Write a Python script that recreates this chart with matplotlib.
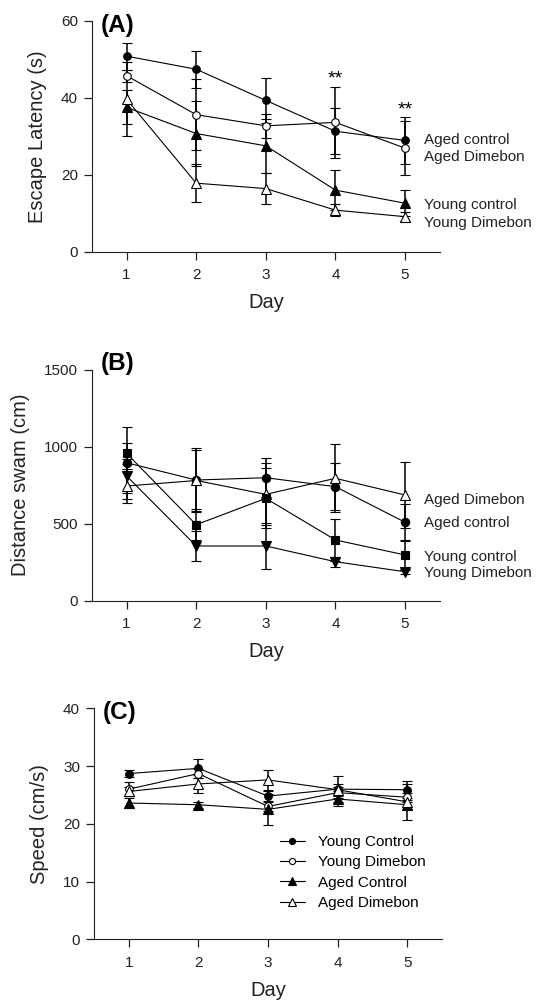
import matplotlib
matplotlib.use("Agg")
import matplotlib.pyplot as plt

plt.rcParams['font.family'] = ['Liberation Sans', 'DejaVu Sans']

days = [1, 2, 3, 4, 5]

# (A) escape latency, s
a_aged_ctrl = [50.8, 47.4, 39.3, 31.3, 28.9]
a_aged_ctrl_err = [3.5, 4.8, 5.9, 6.0, 6.2]
a_aged_dime = [45.7, 35.6, 32.7, 33.6, 26.9]
a_aged_dime_err = [1.5, 9.2, 3.2, 9.3, 7.0]
a_young_ctrl = [37.5, 30.7, 27.5, 16.0, 12.6]
a_young_ctrl_err = [4.4, 8.5, 7.0, 5.2, 3.4]
a_young_dime = [39.6, 17.8, 16.4, 10.8, 9.1]
a_young_dime_err = [9.6, 5.0, 4.1, 1.5, 1.2]

# (B) distance swam, cm
b_aged_ctrl = [895, 783, 798, 740, 509]
b_aged_ctrl_err = [234, 206, 126, 151, 120]
b_aged_dime = [744, 780, 690, 794, 686]
b_aged_dime_err = [108, 198, 201, 221, 216]
b_young_ctrl = [956, 493, 664, 394, 297]
b_young_ctrl_err = [70, 100, 195, 136, 97]
b_young_dime = [809, 355, 355, 253, 188]
b_young_dime_err = [112, 97, 150, 32, 15]

# (C) speed, cm/s
c_young_ctrl = [28.7, 29.6, 24.8, 26.0, 25.9]
c_young_ctrl_err = [0.6, 1.6, 0.8, 2.3, 1.5]
c_young_dime = [26.0, 28.7, 23.0, 25.4, 24.6]
c_young_dime_err = [1.2, 0.8, 0.8, 1.0, 0.8]
c_aged_ctrl = [23.6, 23.3, 22.5, 24.3, 23.3]
c_aged_ctrl_err = [0.9, 0.5, 2.7, 1.3, 0.8]
c_aged_dime = [25.6, 26.9, 27.6, 25.9, 23.8]
c_aged_dime_err = [0.8, 1.5, 1.7, 1.0, 3.1]

fig = plt.figure(figsize=(5.37, 10.02), dpi=100)
axA = fig.add_axes([0.171, 0.7488, 0.648, 0.2305])
axB = fig.add_axes([0.171, 0.4005, 0.648, 0.2307])
axC = fig.add_axes([0.175, 0.0626, 0.648, 0.2305])


def series(ax, y, err, marker, filled, ms):
    c = ax.errorbar(days, y, yerr=err, color='black', lw=0.8, marker=marker, ms=ms,
                    mfc='black' if filled else 'white', mec='black', mew=0.8,
                    ecolor='black', elinewidth=1.1, capsize=3.3, capthick=1.1,
                    clip_on=False, zorder=3)
    return c.lines[0]


series(axA, a_aged_ctrl, a_aged_ctrl_err, 'o', True, 5.5)
series(axA, a_aged_dime, a_aged_dime_err, 'o', False, 5.5)
series(axA, a_young_ctrl, a_young_ctrl_err, '^', True, 6.5)
series(axA, a_young_dime, a_young_dime_err, '^', False, 6.5)

series(axB, b_aged_ctrl, b_aged_ctrl_err, 'o', True, 6)
series(axB, b_aged_dime, b_aged_dime_err, '^', False, 6.5)
series(axB, b_young_ctrl, b_young_ctrl_err, 's', True, 6)
series(axB, b_young_dime, b_young_dime_err, 'v', True, 6.5)

h1 = series(axC, c_young_ctrl, c_young_ctrl_err, 'o', True, 5.5)
h2 = series(axC, c_young_dime, c_young_dime_err, 'o', False, 5.5)
h3 = series(axC, c_aged_ctrl, c_aged_ctrl_err, '^', True, 6.5)
h4 = series(axC, c_aged_dime, c_aged_dime_err, '^', False, 6.5)

for ax, top, step, ylab in [(axA, 60, 20, 'Escape Latency (s)'),
                            (axB, 1500, 500, 'Distance swam (cm)'),
                            (axC, 40, 10, 'Speed (cm/s)')]:
    ax.set_xlim(0.5, 5.5)
    ax.set_ylim(0, top)
    ax.set_xticks(days)
    ax.set_yticks(range(0, top + 1, step))
    ax.spines['top'].set_visible(False)
    ax.spines['right'].set_visible(False)
    ax.spines['left'].set_color('#222222')
    ax.spines['bottom'].set_color('#222222')
    ax.tick_params(direction='out', length=6, width=0.9, colors='#222222',
                   labelsize=11, labelcolor='#222222')
    ax.tick_params(axis='x', pad=6)
    ax.tick_params(axis='y', pad=4)
    ax.set_xlabel('Day', fontsize=14.5, labelpad=8, color='#222222')
    ax.set_ylabel(ylab, fontsize=14.5, labelpad=10, color='#222222')

axA.text(0.026, 1.03, '(A)', transform=axA.transAxes, fontsize=17.5,
         fontweight='bold', va='top', ha='left')
axB.text(0.026, 1.075, '(B)', transform=axB.transAxes, fontsize=17.5,
         fontweight='bold', va='top', ha='left')
axC.text(0.026, 1.03, '(C)', transform=axC.transAxes, fontsize=17.5,
         fontweight='bold', va='top', ha='left')

# significance marks
axA.text(4, 43.8, '**', fontsize=14, ha='center', va='baseline')
axA.text(5, 35.6, '**', fontsize=14, ha='center', va='baseline')

# right-hand group labels
for ax, names, ys in [(axA, ['Aged control', 'Aged Dimebon', 'Young control', 'Young Dimebon'],
                       [29.0, 24.5, 12.1, 7.5]),
                      (axB, ['Aged Dimebon', 'Aged control', 'Young control', 'Young Dimebon'],
                       [653, 502, 285, 178])]:
    for name, yv in zip(names, ys):
        ax.text(5.27, yv, name, fontsize=11, va='center', ha='left',
                color='#222222', clip_on=False)

axC.legend([h1, h2, h3, h4], ['Young Control', 'Young Dimebon', 'Aged Control', 'Aged Dimebon'],
           loc='upper left', bbox_to_anchor=(0.535, 0.452), frameon=False,
           fontsize=11, handlelength=1.6, handletextpad=0.9,
           labelspacing=0.42, borderpad=0, borderaxespad=0, markerscale=0.8)

fig.savefig('out.png', dpi=100)
